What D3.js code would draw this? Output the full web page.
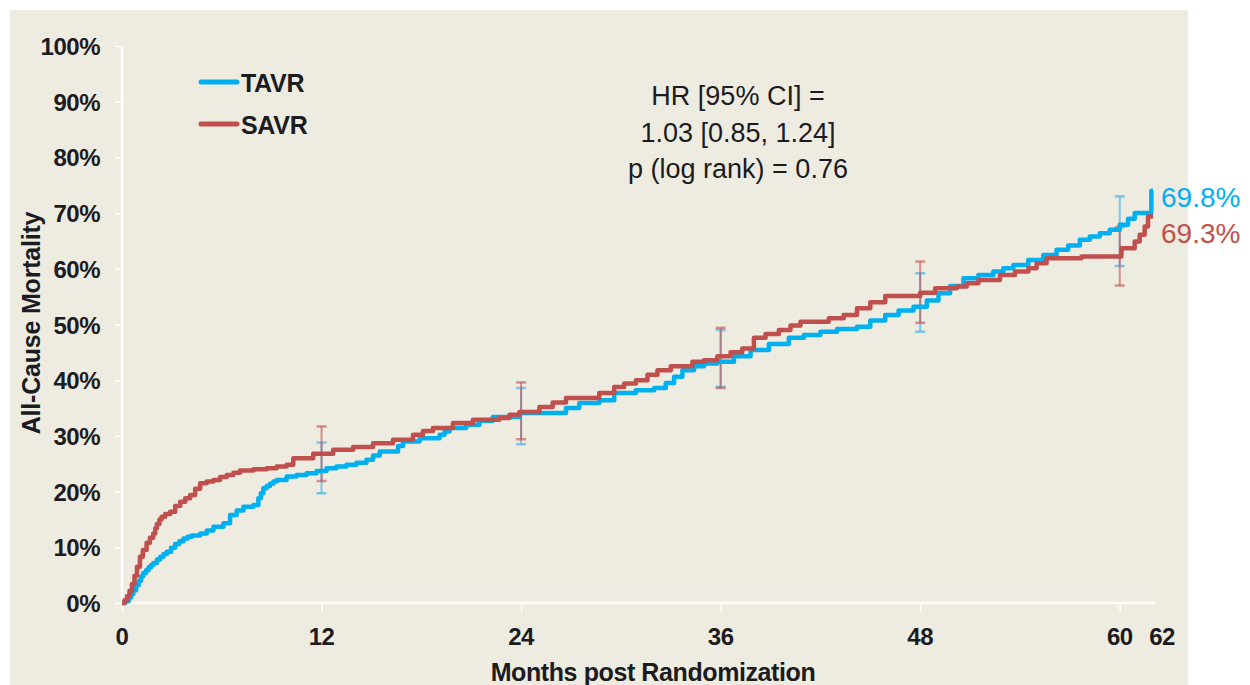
<!DOCTYPE html>
<html>
<head>
<meta charset="utf-8">
<script src="https://cdn.jsdelivr.net/npm/d3@7"></script>
<style>
  html, body { margin: 0; padding: 0; background: #ffffff; }
  svg { display: block; font-family: "Liberation Sans", Arial, sans-serif; }
</style>
</head>
<body>
<svg id="chart" width="1250" height="685"></svg>
<script>
// ---- Data ----
const tavrMonths = [0,0.2,0.4,0.55,0.68,0.85,1.0,1.15,1.28,1.45,1.6,1.75,1.88,2.1,2.3,2.5,2.7,2.95,3.2,3.45,3.7,3.95,4.2,4.7,5.1,5.5,6.1,6.5,6.9,7.3,7.9,8.2,8.35,8.5,8.7,8.9,9.1,9.3,9.9,10.5,11.1,11.7,12.3,12.9,13.5,14.1,14.7,15.1,15.5,16.6,16.9,17.9,19.1,19.4,19.7,20.7,21.5,22.3,23.9,26.7,27.5,28.7,29.6,30.9,32.0,32.7,33.2,33.7,34.4,35.0,35.8,36.8,37.8,38.9,40.1,41.0,42.0,43.0,44.2,45.0,45.9,46.7,47.6,48.4,49.1,49.8,50.6,51.5,52.4,53.0,53.6,54.5,55.4,56.2,56.9,57.6,58.2,58.8,59.4,60.0,60.5,60.9,61.9,62.0];
const tavrPct    = [0,0.3,1.0,1.6,2.3,3.2,4.0,4.8,5.4,5.9,6.4,6.8,7.2,7.8,8.3,8.8,9.2,9.9,10.6,11.1,11.6,11.9,12.1,12.5,13.0,13.7,14.3,15.8,16.6,17.3,17.6,18.8,19.7,20.6,21.0,21.4,21.8,22.1,22.7,23.0,23.3,23.7,24.2,24.5,24.8,25.2,25.7,26.5,27.2,28.2,29.0,29.6,30.2,30.8,31.4,32.0,32.7,33.4,34.1,35.0,35.9,36.4,37.7,38.2,38.6,39.5,40.6,41.8,42.5,43.0,43.3,44.3,45.4,46.5,47.6,48.1,48.7,49.2,49.6,50.7,51.7,52.5,53.2,54.3,55.6,56.9,58.3,58.9,59.5,60.1,60.7,61.6,62.5,63.4,64.2,65.2,65.8,66.4,67.0,67.9,69.0,70.0,74.0,74.0];

const savrMonths = [0,0.15,0.3,0.45,0.6,0.75,0.9,1.08,1.25,1.48,1.68,1.88,2.0,2.1,2.25,2.38,2.6,2.9,3.2,3.5,3.8,4.1,4.4,4.7,5.1,5.5,5.9,6.3,6.7,7.1,7.9,8.7,9.3,9.9,10.3,11.5,12.7,13.9,15.1,16.3,17.5,18.1,18.7,19.9,21.1,22.7,23.3,23.9,25.1,25.9,26.7,28.7,29.6,30.2,30.9,31.6,32.2,33.0,34.3,35.0,35.8,36.6,37.3,38.0,38.7,39.5,40.2,40.8,42.5,43.4,44.2,45.0,45.9,48.0,48.9,50.2,50.8,51.5,52.8,53.7,54.5,55.0,55.6,57.7,60.1,60.9,61.2,61.5,61.7,62.0];
const savrPct    = [0,0.5,1.2,2.2,3.4,4.9,6.5,8.3,9.5,10.8,11.7,12.5,13.4,14.2,15.0,15.5,16.0,16.4,17.4,18.2,18.8,19.4,20.5,21.5,21.8,22.1,22.6,23.0,23.4,23.8,24.0,24.2,24.5,24.8,26.0,26.8,27.5,28.0,28.7,29.3,30.2,30.9,31.4,32.3,32.9,33.2,33.8,34.3,35.2,36.0,36.8,37.7,38.8,39.4,40.0,41.0,41.8,42.5,43.3,43.6,44.3,45.0,45.7,47.6,48.3,49.0,49.8,50.5,51.1,51.7,52.9,54.0,55.1,55.7,56.5,56.8,57.4,58.0,58.9,59.5,60.1,61.0,61.9,62.2,63.7,64.9,66.1,67.6,69.4,69.4];

// 95% CI error bars at landmark months
const ciMonths = [12, 24, 36, 48, 60];
const tavrCiLow  = [19.7, 28.5, 38.8, 48.7, 60.5];
const tavrCiHigh = [28.8, 38.6, 49.0, 59.2, 73.0];
const savrCiLow  = [21.9, 29.4, 38.6, 50.3, 57.0];
const savrCiHigh = [31.7, 39.6, 49.4, 61.3, 67.5];

const xTicks = [0, 12, 24, 36, 48, 60];
const xEndTick = 62;
const yTicks = [0,10,20,30,40,50,60,70,80,90,100];

const seriesNames = ["TAVR", "SAVR"];
const endLabels = ["69.8%", "69.3%"];
const annotationLines = ["HR [95% CI] =", "1.03 [0.85, 1.24]", "p (log rank) = 0.76"];
const xTitle = "Months post Randomization";
const yTitle = "All-Cause Mortality";

// ---- Styles ----
const colBlue = "#00b0f0";
const colRed = "#c0504d";
const colText = "#1b1b22";
const bg = "#eeebe0";

const svg = d3.select("#chart");

// panel background
svg.append("rect").attr("x", 10).attr("y", 10).attr("width", 1178).attr("height", 675).attr("fill", bg);

const x = d3.scaleLinear().domain([0, 62]).range([122, 1153]);
const y = d3.scaleLinear().domain([0, 100]).range([603, 46]);

// Axes (white lines)
const gx = svg.append("g").attr("transform", `translate(0,${y(0)})`)
  .call(d3.axisBottom(x).tickValues(xTicks).tickSize(9).tickFormat(""));
gx.select(".domain").attr("d", `M${x(0)},0H${x(62) + 2}`).attr("stroke", "#ffffff").attr("stroke-width", 2.5);
gx.selectAll(".tick line").attr("stroke", "#ffffff").attr("stroke-width", 1.5);

const gy = svg.append("g").attr("transform", `translate(${x(0)},0)`)
  .call(d3.axisLeft(y).tickValues(yTicks).tickSize(7).tickFormat(""));
gy.select(".domain").attr("d", `M0,${y(100)}V${y(0)}`).attr("stroke", "#ffffff").attr("stroke-width", 2.5);
gy.selectAll(".tick line").attr("stroke", "#ffffff").attr("stroke-width", 1.5);

// Tick labels
svg.append("g").selectAll("text").data(yTicks).join("text")
  .attr("x", 100).attr("y", d => y(d) + 9)
  .attr("text-anchor", "end").attr("font-size", 24).attr("font-weight", "bold")
  .attr("fill", colText).attr("letter-spacing", -0.5)
  .text(d => d + "%");

svg.append("g").selectAll("text").data(xTicks).join("text")
  .attr("x", d => x(d)).attr("y", 645)
  .attr("text-anchor", "middle").attr("font-size", 24).attr("font-weight", "bold")
  .attr("fill", colText).attr("letter-spacing", -0.5)
  .text(d => d);
svg.append("text").attr("x", x(xEndTick) + 9).attr("y", 645)
  .attr("text-anchor", "middle").attr("font-size", 24).attr("font-weight", "bold")
  .attr("fill", colText).attr("letter-spacing", -0.5).text(xEndTick);

// Axis titles
svg.append("text").attr("x", 653).attr("y", 681)
  .attr("text-anchor", "middle").attr("font-size", 25).attr("font-weight", "bold")
  .attr("fill", colText).attr("letter-spacing", -0.4).text(xTitle);
svg.append("text").attr("transform", "translate(40,323) rotate(-90)")
  .attr("text-anchor", "middle").attr("font-size", 25).attr("font-weight", "bold")
  .attr("fill", colText).attr("letter-spacing", -0.2).text(yTitle);

// Curves
const line = d3.line().x(d => x(d[0])).y(d => y(d[1])).curve(d3.curveStepAfter);
const tavrData = tavrMonths.map((m, i) => [m, tavrPct[i]]);
const savrData = savrMonths.map((m, i) => [m, savrPct[i]]);

// Error bars
function errorBars(lows, highs, color, opacity) {
  const g = svg.append("g").attr("stroke", color).attr("stroke-opacity", opacity).attr("fill", "none");
  ciMonths.forEach((m, i) => {
    g.append("line").attr("x1", x(m)).attr("x2", x(m)).attr("y1", y(lows[i])).attr("y2", y(highs[i])).attr("stroke-width", 2);
    [lows[i], highs[i]].forEach(v => {
      g.append("line").attr("x1", x(m) - 5).attr("x2", x(m) + 5).attr("y1", y(v)).attr("y2", y(v)).attr("stroke-width", 2.5);
    });
  });
}
errorBars(tavrCiLow, tavrCiHigh, "#4fb3e8", 0.7);
errorBars(savrCiLow, savrCiHigh, colRed, 0.6);

svg.append("path").datum(tavrData).attr("d", line)
  .attr("fill", "none").attr("stroke", colBlue).attr("stroke-width", 4.5).attr("stroke-linejoin", "round");
svg.append("path").datum(savrData).attr("d", line)
  .attr("fill", "none").attr("stroke", colRed).attr("stroke-width", 4.5).attr("stroke-linejoin", "round");

// Legend
const legColors = [colBlue, colRed];
const legY = [82, 124];
seriesNames.forEach((name, i) => {
  svg.append("line").attr("x1", 201).attr("x2", 237).attr("y1", legY[i]).attr("y2", legY[i])
    .attr("stroke", legColors[i]).attr("stroke-width", 5).attr("stroke-linecap", "round");
  svg.append("text").attr("x", 241).attr("y", legY[i] + 10)
    .attr("font-size", 25).attr("font-weight", "bold").attr("fill", colText)
    .attr("letter-spacing", -0.3).text(name);
});

// Annotation
annotationLines.forEach((t, i) => {
  svg.append("text").attr("x", 738).attr("y", 105 + i * 36.5)
    .attr("text-anchor", "middle").attr("font-size", 27).attr("fill", colText)
    .text(t);
});

// End labels
const endY = [207, 243];
endLabels.forEach((t, i) => {
  svg.append("text").attr("x", 1161).attr("y", endY[i])
    .attr("font-size", 28).attr("fill", legColors[i]).text(t);
});
</script>
</body>
</html>
